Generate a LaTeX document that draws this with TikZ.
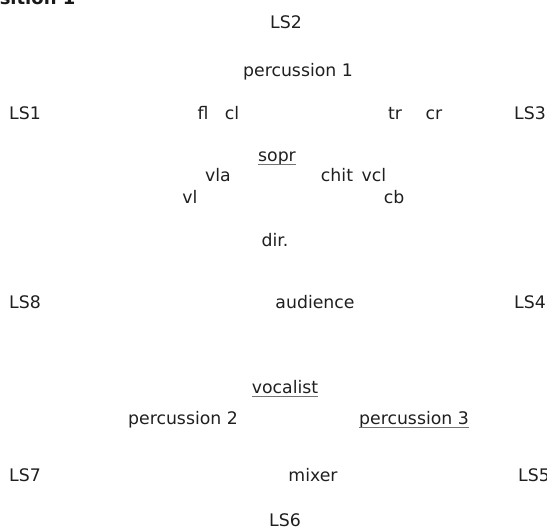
\documentclass[tikz,border=0pt]{standalone}
\usepackage{fontspec}
\setmainfont{DejaVu Sans}
\begin{document}
\begin{tikzpicture}[x=1pt,y=-1pt,
  lbl/.style={font=\fontsize{17.3}{20}\selectfont, text=black!88, inner sep=0pt,
    text height=12.6pt, text depth=0pt, anchor=center},
  ul/.style={draw=black!55, line width=0.9pt},
  ttl/.style={font=\fontsize{18}{21}\selectfont\bfseries, text=black!90, inner sep=0pt, anchor=base west}]
  \useasboundingbox (0,0) rectangle (547,530);
  % heading, running off the top edge
  \node[ttl] (title) at (-26,4.5) {Position 1};
  % loudspeakers
  \node[lbl] (ls2) at (286,22) {LS2};
  \node[lbl] (ls1) at (25,113) {LS1};
  \node[lbl] (ls3) at (530,113) {LS3};
  \node[lbl] (ls8) at (25,302) {LS8};
  \node[lbl] (ls4) at (530,302) {LS4};
  \node[lbl] (ls7) at (25,475) {LS7};
  \node[lbl] (ls5) at (534,475) {LS5};
  \node[lbl] (ls6) at (285,520) {LS6};
  % players
  \node[lbl] (perc1) at (298,70) {percussion 1};
  \node[lbl] (fl) at (203,113) {fl};
  \node[lbl] (cl) at (232,113) {cl};
  \node[lbl] (tr) at (395,113) {tr};
  \node[lbl] (cr) at (434,113) {cr};
  \node[lbl] (sopr) at (277,155) {sopr};
  \node[lbl] (vla) at (218,175) {vla};
  \node[lbl] (chit) at (337,175) {chit};
  \node[lbl] (vcl) at (374,175) {vcl};
  \node[lbl] (vl) at (190,197) {vl};
  \node[lbl] (cb) at (394,197) {cb};
  \node[lbl] (dir) at (275,240) {dir.};
  \node[lbl] (aud) at (315,302) {audience};
  \node[lbl] (voc) at (285,387) {vocalist};
  \node[lbl] (perc2) at (183,418) {percussion 2};
  \node[lbl] (perc3) at (414,418) {percussion 3};
  \node[lbl] (mix) at (313,475) {mixer};
  % underlined parts
  \draw[ul] ([yshift=-3pt]sopr.south west) -- ([yshift=-3pt]sopr.south east);
  \draw[ul] ([yshift=-3pt]voc.south west) -- ([yshift=-3pt]voc.south east);
  \draw[ul] ([yshift=-3pt]perc3.south west) -- ([yshift=-3pt]perc3.south east);
\end{tikzpicture}
\end{document}
